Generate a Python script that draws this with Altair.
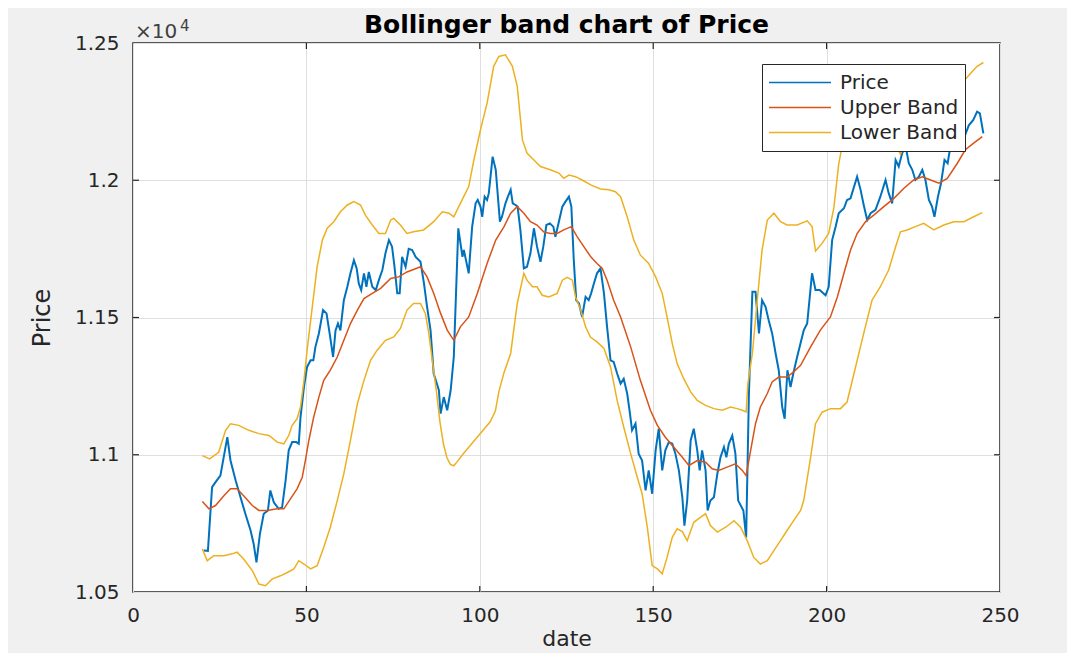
import altair as alt
import pandas as pd

# ---------------- data ----------------
price_x = [20.4, 21.6, 22.8, 23.8, 25.2, 27.2, 28.1, 29.6, 31.0, 32.4, 33.9, 34.8, 35.6, 36.6, 37.7,
           38.9, 39.6, 40.6, 42.0, 43.0, 44.0, 44.9, 45.9, 47.1, 47.8, 48.3, 49.3, 50.2, 51.2, 52.0,
           52.6, 53.6, 54.8, 55.8, 56.7, 57.7, 58.4, 59.1, 59.8, 60.8, 61.8, 62.7, 63.7, 64.5, 65.1,
           65.8, 66.6, 67.3, 68.0, 69.0, 70.0, 70.9, 71.9, 72.8, 73.8, 74.7, 75.4, 76.2, 76.9, 77.6,
           78.6, 79.5, 80.5, 81.5, 82.9, 83.9, 84.8, 85.8, 86.7, 88.2, 88.7, 89.6, 90.6, 91.6, 92.5,
           93.8, 95.0, 95.4, 96.8, 97.8, 98.8, 99.4, 100.2, 100.7, 101.4, 102.1, 102.6, 103.7, 104.6,
           105.8, 106.4, 107.4, 108.1, 108.9, 109.5, 110.3, 110.9, 111.7, 112.7, 113.6, 114.6, 115.6,
           116.5, 117.5, 118.3, 119.2, 120.2, 121.2, 121.8, 122.8, 123.8, 124.7, 125.7, 126.4, 127.1,
           127.8, 128.6, 129.5, 130.5, 131.4, 132.1, 132.9, 133.8, 134.8, 135.8, 136.7, 137.7, 138.6,
           139.6, 140.6, 141.5, 142.5, 143.3, 143.9, 144.9, 145.8, 146.8, 147.8, 148.7, 149.7, 150.7,
           151.6, 152.6, 153.5, 154.5, 155.5, 156.4, 157.4, 158.4, 159.0, 159.8, 160.8, 161.7, 162.7,
           163.4, 164.1, 165.1, 165.7, 166.5, 167.5, 168.5, 169.4, 170.4, 171.1, 171.8, 172.8, 173.7,
           174.5, 176.0, 176.8, 177.6, 178.6, 179.5, 180.5, 181.4, 182.4, 183.3, 184.3, 185.3, 186.2,
           187.2, 187.9, 188.7, 189.6, 190.4, 191.5, 193.4, 194.4, 195.8, 196.8, 198.0, 199.7, 200.6,
           201.6, 202.6, 203.5, 205.0, 205.9, 206.9, 208.8, 209.8, 210.7, 211.7, 212.7, 214.1, 215.5,
           217.0, 217.9, 218.9, 219.9, 220.8, 221.8, 222.8, 223.7, 224.7, 225.6, 226.6, 227.6, 228.5,
           229.5, 230.4, 231.1, 232.1, 233.0, 234.0, 234.9, 235.7, 237.5, 239.5, 241.0, 242.3, 243.4,
           244.2, 245.2]
price_v = [10651, 10650, 10882, 10900, 10924, 11064, 10980, 10906, 10845, 10785, 10724, 10675, 10608, 10712, 10785,
           10797, 10870, 10827, 10803, 10809, 10906, 11016, 11046, 11046, 11040, 11137, 11247, 11320, 11344, 11344,
           11393, 11442, 11527, 11515, 11442, 11356, 11453, 11478, 11453, 11563, 11612, 11661, 11709, 11679, 11624,
           11600, 11661, 11612, 11666, 11612, 11600, 11636, 11673, 11734, 11782, 11758, 11685, 11588, 11588, 11721,
           11685, 11750, 11746, 11721, 11703, 11624, 11539, 11453, 11296, 11235, 11150, 11210, 11162, 11235, 11356,
           11825, 11721, 11746, 11661, 11831, 11916, 11928, 11904, 11867, 11940, 11928, 11953, 12086, 12038,
           11849, 11867, 11916, 11940, 11965, 11916, 11910, 11904, 11819, 11679, 11685, 11734, 11825,
           11758, 11703, 11758, 11837, 11843, 11831, 11794, 11849, 11904, 11922, 11940, 11904, 11709,
           11563, 11551, 11502, 11575, 11563, 11588, 11624, 11661, 11679, 11588, 11466, 11344, 11338,
           11296, 11259, 11277, 11223, 11150, 11089, 11113, 11004, 10979, 10870, 10943, 10858, 11016,
           11095, 10943, 11016, 11046, 11040, 11004, 10943, 10845, 10742, 10833, 11052, 11095, 11016,
           10943, 11016, 10943, 10797, 10833, 10845, 10931, 10991, 11028, 10991, 11040, 11070, 11004,
           10833, 10797, 10699, 11223, 11594, 11594, 11442, 11563, 11539, 11490, 11442, 11369, 11308,
           11174, 11131, 11308, 11247, 11296, 11356, 11453, 11478, 11661, 11600, 11600, 11581, 11612,
           11782, 11831, 11880, 11898, 11928, 11934, 12013, 11965, 11910, 11855, 11880, 11892, 11940,
           12001, 11953, 11916, 12074, 12050, 12099, 12123, 12062, 12038, 12001, 12013, 12038, 12001,
           11928, 11904, 11867, 11940, 11989, 12074, 12062, 12123, 12180, 12150, 12200, 12220, 12250,
           12244, 12171]

mid_x = [20, 21.9, 23.8, 26.2, 28.1, 30, 31.9, 34.4, 36.3, 38.7, 41.6, 43.5, 45.4, 47.3, 48.8, 49.7,
         50.7, 52.1, 53.6, 55, 56.9, 58.9, 60.8, 62.7, 64.7, 66.6, 69, 71.4, 74.3, 76.6, 79, 80.9, 82.9,
         84.8, 86.7, 88.7, 90.6, 92.5, 94.4, 96.8, 99.3, 102.1, 104.6, 107, 108.9, 110.8, 112.7, 114.6,
         116.5, 118.4, 120.3, 122.3, 124.2, 126.4, 128.1, 130, 132, 133.8, 135.3, 136.7, 138.6, 140.6,
         143.5, 146.3, 149.2, 151.2, 153.5, 155.9, 158.4, 160.3, 162.7, 165.1, 167, 168.9, 171.3, 173.7,
         175.7, 176.8, 178.1, 179.5, 180.9, 182.9, 184.3, 186.2, 188.6, 190.5, 192.5, 195.4, 198.2,
         201.1, 203.1, 205, 206.9, 208.8, 211.2, 213.6, 216.5, 219.4, 222.3, 225.1, 227.6, 230, 232.4,
         234.8, 237.7, 240, 242.4, 244.9]
mid_v = [10830, 10803, 10815, 10851, 10876, 10876, 10851, 10815, 10797, 10797, 10803, 10803, 10839, 10876, 10918, 10979,
         11052, 11137, 11210, 11271, 11308, 11356, 11417, 11478, 11527, 11569, 11588, 11606, 11642, 11648, 11666, 11675, 11685,
         11648, 11588, 11515, 11454, 11417, 11466, 11502, 11588, 11697, 11782, 11831, 11880, 11904, 11880, 11849,
         11837, 11812, 11806, 11806, 11819, 11831, 11794, 11758, 11721, 11697, 11679, 11636, 11563, 11502,
         11393, 11271, 11162, 11107, 11064, 11028, 10991, 10961, 10979, 10973, 10949, 10943, 10955, 10967,
         10943, 10924, 11016, 11113, 11174, 11223, 11265, 11283, 11283, 11302, 11326, 11393, 11454,
         11502, 11575, 11661, 11746, 11806, 11849, 11873, 11904, 11934, 11971, 12001, 12013, 12001, 11989,
         12007, 12062, 12111, 12135, 12159]

up_x = [20, 22.1, 24.7, 26.7, 28.1, 30.5, 33.4, 36.3, 39.2, 41.6, 43.5, 44.9, 45.9, 47.3, 48.3, 49.3,
        50.2, 51.7, 53.1, 54.6, 56, 57.9, 59.8, 61.8, 63.7, 65.6, 67, 69, 70.9, 72.8, 74.3, 75.2, 77.1,
        79, 80.9, 83.8, 86.7, 89.2, 91.1, 92.5, 94.4, 96.8, 98.3, 100.2, 102.1, 104, 105.5, 107.4, 109.4,
        110.8, 112.3, 113.6, 115.6, 117.5, 120.3, 122.8, 124.2, 125.7, 127.6, 129.5, 132, 134.8, 137.2,
        139.1, 140.6, 142.5, 144.4, 146.3, 148.7, 150.7, 152.6, 154, 155.5, 156.9, 158.8, 160.8, 162.7,
        165.1, 167.5, 169.9, 172.3, 174.2, 175.7, 176.8, 177.3, 178.6, 180, 181.4, 182.9, 184.8, 186.7,
        188.6, 191.5, 194.4, 195.8, 196.8, 198.7, 200.6, 202.1, 203.5, 205, 207, 210, 213, 216, 219,
        221.3, 223, 226, 230, 234, 238, 242, 243.4, 245.2]
up_v = [10997, 10985, 11009, 11089, 11113, 11107, 11089, 11077, 11070, 11046, 11040, 11070, 11107, 11131, 11174, 11271,
        11381, 11539, 11685, 11782, 11825, 11849, 11885, 11910, 11922, 11910, 11873, 11837, 11806, 11806, 11855, 11861, 11837,
        11806, 11812, 11819, 11849, 11885, 11880, 11867, 11916, 11977, 12074, 12184, 12281, 12415, 12451, 12457, 12415,
        12342, 12147, 12099, 12074, 12050, 12038, 12026, 12007, 12019, 12013, 12001, 11983, 11968, 11965,
        11958, 11940, 11867, 11782, 11727, 11697, 11648, 11588, 11502, 11405, 11332, 11277, 11229, 11198,
        11180, 11168, 11162, 11174, 11168, 11162, 11156, 11259, 11369, 11563, 11746, 11855, 11880, 11849,
        11837, 11837, 11852, 11831, 11742, 11770, 11806, 11900, 12060, 12160, 12270, 12320, 12310, 12250, 12150,
        12095, 12150, 12230, 12270, 12300, 12340, 12396, 12415, 12429]

lo_x = [20, 21.4, 23.3, 26.2, 28.6, 30, 31.9, 34.4, 36.3, 38.2, 40.1, 42.5, 44.5, 46.4, 47.8, 49.3,
        51.2, 53.1, 55, 56.9, 58.9, 60.8, 62.7, 64.7, 66.6, 68.5, 70.4, 72.8, 75.2, 77.1, 79, 80.9, 82.9,
        84.3, 85.3, 86.3, 87.5, 88.5, 89.5, 90.5, 91.5, 92.5, 93.5, 95, 97, 99, 101, 103, 104.5, 105.5,
        107, 108.9, 110.8, 112.7, 113.6, 115.2, 116.5, 118, 119.9, 122.3, 123.8, 125.2, 126.7, 127.6,
        129.1, 130.5, 131.9, 133.8, 135.8, 137.7, 139.6, 141.5, 143.5, 145.4, 146.8, 148.3, 149.7, 151.2,
        152.6, 154, 155.5, 156.9, 158.4, 159.8, 161.7, 163.6, 165.1, 166.5, 168.5, 170.9, 173.3, 175.2,
        177.1, 179, 180.9, 182.9, 184.8, 186.7, 188.6, 190.5, 192.5, 193.4, 195.4, 196.8, 198.7, 201.1,
        204, 205.9, 207.9, 210.7, 213.1, 215.5, 217.9, 219.9, 221.3, 223.2, 225.6, 228, 230.9, 233.8,
        236.7, 239.6, 242.4, 244.9]
lo_v = [10657, 10614, 10632, 10632, 10639, 10645, 10620, 10578, 10529, 10523, 10547, 10559, 10571, 10584, 10614, 10602,
        10584, 10596, 10663, 10736, 10833, 10931, 11052, 11186, 11271, 11344, 11381, 11417, 11429, 11460, 11527, 11551, 11551,
        11515, 11442, 11344, 11230, 11120, 11040, 10990, 10965, 10960, 10975, 11000, 11030, 11060, 11090, 11120, 11160, 11230,
        11300, 11369, 11551, 11661, 11636, 11612, 11612, 11581, 11575, 11588, 11636, 11646, 11636, 11575,
        11527, 11466, 11429, 11411, 11387, 11320, 11198, 11101, 11004, 10918, 10858, 10736, 10596, 10584,
        10566, 10626, 10699, 10730, 10720, 10687, 10754, 10772, 10785, 10742, 10718, 10736, 10760, 10736,
        10687, 10626, 10602, 10614, 10651, 10687, 10724, 10760, 10797, 10833, 10991, 11113, 11155, 11168,
        11168, 11192, 11296, 11442, 11563, 11612, 11673, 11758, 11812, 11819, 11831, 11843, 11819, 11837,
        11849, 11849, 11867, 11882]

legend_labels = ["Price", "Upper Band", "Lower Band"]
legend_colors = ["#0072BD", "#D95319", "#EDB120"]
x_ticks = [0, 50, 100, 150, 200, 250]
y_ticks = [10500, 11000, 11500, 12000, 12500]
inner_x_ticks = [50, 100, 150, 200]
inner_y_ticks = [11000, 11500, 12000]
title_text = ["Bollinger band chart of Price"]
exponent_base = ["×10"]
exponent_power = ["4"]

# ---------------- chart ----------------
W, H = 867, 549
FONT = "DejaVu Sans"
AX = "#262626"

price_df = pd.DataFrame({"x": price_x, "v": price_v, "series": "Price", "label": "Price"})
band_df = pd.concat([
    pd.DataFrame({"x": mid_x, "v": mid_v, "series": "mid", "label": "Upper Band"}),
    pd.DataFrame({"x": up_x, "v": up_v, "series": "up", "label": "Lower Band"}),
    pd.DataFrame({"x": lo_x, "v": lo_v, "series": "lo", "label": "Lower Band"}),
])

xs = alt.Scale(domain=[0, 250], nice=False, zero=False)
ys = alt.Scale(domain=[10500, 12500], nice=False, zero=False)

legend = alt.Legend(
    orient="none", legendX=629, legendY=21, title=None,
    symbolType="stroke", symbolSize=3844, symbolStrokeWidth=1.5,
    clipHeight=25, rowPadding=0, labelFontSize=20, labelFont=FONT,
    labelColor=AX, labelOffset=8, padding=6,
    fillColor="white", strokeColor=AX, cornerRadius=0,
)
color = alt.Color("label:N", scale=alt.Scale(domain=legend_labels, range=legend_colors),
                  legend=legend)

x_axis = alt.Axis(values=x_ticks, title="date", grid=True, gridColor="#dfdfdf", gridWidth=1,
                  tickSize=0, domain=False, labelFlush=False, labelFontSize=20, labelFont=FONT,
                  labelColor=AX, labelPadding=13, titleFontSize=22, titleFont=FONT,
                  titleFontWeight="normal", titleColor=AX, titlePadding=3)
y_axis = alt.Axis(values=y_ticks, title="Price", grid=True, gridColor="#dfdfdf", gridWidth=1,
                  tickSize=0, domain=False, labelFlush=False, labelExpr="datum.value / 10000",
                  labelFontSize=20, labelFont=FONT, labelColor=AX, labelPadding=14,
                  titleFontSize=24, titleFont=FONT, titleFontWeight="normal", titleColor=AX,
                  titlePadding=20)

X = alt.X("x:Q", scale=xs, axis=x_axis)
Y = alt.Y("v:Q", scale=ys, axis=y_axis)

price_line = alt.Chart(price_df).mark_line(strokeWidth=2).encode(
    x=X, y=Y, color=color, detail="series:N")
band_lines = alt.Chart(band_df).mark_line(strokeWidth=1.5).encode(
    x=X, y=Y, color=color, detail="series:N")

xt_df = pd.DataFrame({"x": inner_x_ticks})
yt_df = pd.DataFrame({"v": inner_y_ticks})
tick_style = dict(color=AX, strokeWidth=1.2)
bottom_ticks = alt.Chart(xt_df).mark_rule(**tick_style).encode(
    x=X, y=alt.value(H), y2=alt.value(H - 6))
top_ticks = alt.Chart(xt_df).mark_rule(**tick_style).encode(
    x=X, y=alt.value(0), y2=alt.value(6))
left_ticks = alt.Chart(yt_df).mark_rule(**tick_style).encode(
    y=Y, x=alt.value(0), x2=alt.value(6))
right_ticks = alt.Chart(yt_df).mark_rule(**tick_style).encode(
    y=Y, x=alt.value(W), x2=alt.value(W - 6))

title_mark = alt.Chart(pd.DataFrame({"t": title_text})).mark_text(
    align="center", baseline="alphabetic", fontSize=25, fontWeight="bold", font=FONT, color="black"
).encode(x=alt.value(W / 2), y=alt.value(-10), text="t:N")
exp_base = alt.Chart(pd.DataFrame({"t": exponent_base})).mark_text(
    align="left", baseline="alphabetic", fontSize=20, font=FONT, color="#404040"
).encode(x=alt.value(2), y=alt.value(-5), text="t:N")
exp_power = alt.Chart(pd.DataFrame({"t": exponent_power})).mark_text(
    align="left", baseline="alphabetic", fontSize=15, font=FONT, color="#404040"
).encode(x=alt.value(47), y=alt.value(-12), text="t:N")

chart = alt.layer(
    price_line, band_lines, bottom_ticks, top_ticks, left_ticks, right_ticks,
    title_mark, exp_base, exp_power
).properties(
    width=W, height=H,
    padding={"left": 125, "top": 35, "right": 67, "bottom": 61},
    autosize=alt.AutoSizeParams(type="none"),
).configure(
    background="#f0f0f0",
).configure_view(
    fill="white", stroke=AX, strokeWidth=1.5,
)

chart.save("out.html", embed_options={"renderer": "svg", "actions": False})
